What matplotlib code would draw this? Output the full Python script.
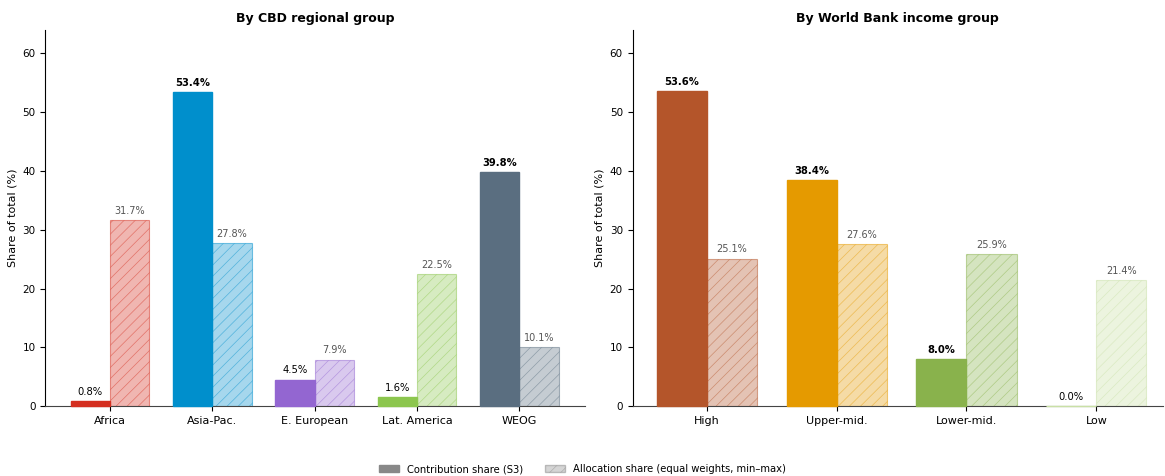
import matplotlib
matplotlib.use("Agg")
import matplotlib.pyplot as plt
import numpy as np
from matplotlib.patches import Patch
from matplotlib.colors import to_rgba

# CBD regional groups
cbd_groups = ["Africa", "Asia-Pac.", "E. European", "Lat. America", "WEOG"]
cbd_contrib = [0.8, 53.4, 4.5, 1.6, 39.8]
cbd_alloc = [31.7, 27.8, 7.9, 22.5, 10.1]
cbd_colors = ["#d42f20", "#008fcc", "#9366d1", "#8cc64e", "#5a6e80"]

# World Bank income groups
wb_groups = ["High", "Upper-mid.", "Lower-mid.", "Low"]
wb_contrib = [53.6, 38.4, 8.0, 0.0]
wb_alloc = [25.1, 27.6, 25.9, 21.4]
wb_colors = ["#b4552a", "#e59a00", "#89b24c", "#c9e0a6"]

plt.rcParams["hatch.linewidth"] = 0.5
W = 0.385

fig = plt.figure(figsize=(11.65, 4.76), dpi=100)
ax1 = fig.add_axes([0.039, 0.147, 0.463, 0.79])
ax2 = fig.add_axes([0.543, 0.147, 0.455, 0.79])


def draw(ax, groups, contrib, alloc, colors, title, xlim):
    x = np.arange(len(groups))
    for i in x:
        c = colors[i]
        ax.bar(x[i] - W / 2, contrib[i], W, color=c, edgecolor=c, linewidth=1.0,
               zorder=3, clip_on=False)
        ax.bar(x[i] + W / 2, alloc[i], W, facecolor=to_rgba(c, 0.35),
               edgecolor=to_rgba(c, 0.5), hatch="///", linewidth=0.8, zorder=2)
        ax.text(x[i] - W / 2, contrib[i] + 0.7, f"{contrib[i]:.1f}%", ha="center",
                va="bottom", fontsize=7.2,
                fontweight="bold" if contrib[i] >= 5 else "normal")
        ax.text(x[i] + W / 2, alloc[i] + 0.7, f"{alloc[i]:.1f}%", ha="center",
                va="bottom", fontsize=7, color="#555555")
    ax.set_xticks(x)
    ax.set_xticklabels(groups, fontsize=8)
    ax.tick_params(axis="y", labelsize=7.5)
    ax.set_xlim(*xlim)
    ax.set_ylim(0, 64)
    ax.set_ylabel("Share of total (%)", fontsize=8)
    ax.set_title(title, fontsize=9, fontweight="bold")
    ax.spines["top"].set_visible(False)
    ax.spines["right"].set_visible(False)
    ax.spines["bottom"].set_color("#444444")


draw(ax1, cbd_groups, cbd_contrib, cbd_alloc, cbd_colors,
     "By CBD regional group", (-0.63, 4.64))
draw(ax2, wb_groups, wb_contrib, wb_alloc, wb_colors,
     "By World Bank income group", (-0.57, 3.51))

handles = [
    Patch(facecolor="#888888", edgecolor="#888888", label="Contribution share (S3)"),
    Patch(facecolor=to_rgba("#888888", 0.35), edgecolor=to_rgba("#888888", 0.5),
          hatch="///", label="Allocation share (equal weights, min\u2013max)"),
]
fig.legend(handles=handles, loc="lower center", ncol=2, frameon=False,
           fontsize=7.2, bbox_to_anchor=(0.5, -0.015), handleheight=0.6,
           columnspacing=2.2)

fig.savefig("out.png", dpi=100)
